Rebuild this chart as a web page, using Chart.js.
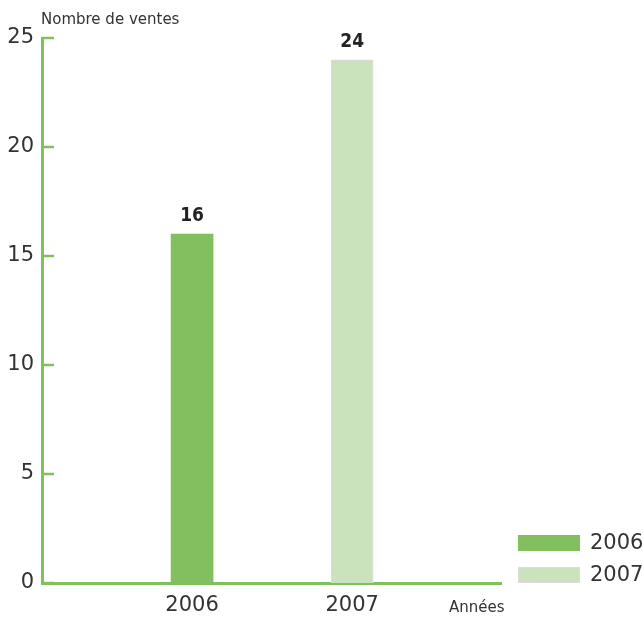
<!DOCTYPE html>
<html>
<head>
<meta charset="utf-8">
<script src="https://cdn.jsdelivr.net/npm/chart.js@4.4.0/dist/chart.umd.min.js"></script>
<style>
  html, body { margin: 0; padding: 0; background: #fff; }
  #wrap { width: 643px; height: 617px; position: relative; }
</style>
</head>
<body>
<div id="wrap"><canvas id="salesChart" width="643" height="617"></canvas></div>
<script>
var years = ['2006', '2007'];
var sales = [16, 24];
var yTicks = [0, 5, 10, 15, 20, 25];
var colors = ['#82bf5f', '#cbe3bc'];
var yTitle = 'Nombre de ventes';
var xTitle = 'Années';

var axisGreen = '#7fc25d';
var textColor = '#333333';

var datasets = years.map(function (yr, i) {
    return {
        label: yr,
        data: [{ x: Number(yr), y: sales[i] }],
        backgroundColor: colors[i],
        borderColor: i === 1 ? '#e2d8e2' : colors[i],
        borderWidth: i === 1 ? 1 : 0,
        borderSkipped: 'bottom',
        barThickness: 42,
        grouped: false
    };
});

// inward ticks, value labels, axis captions and the legend
var decorations = {
    id: 'decorations',
    afterDatasetsDraw: function (chart) {
        var ctx = chart.ctx;
        var ys = chart.scales.y;
        var xs = chart.scales.x;
        ctx.save();

        ctx.strokeStyle = axisGreen;
        ctx.lineWidth = 2.5;
        yTicks.forEach(function (v) {
            var py = ys.getPixelForValue(v);
            ctx.beginPath();
            ctx.moveTo(xs.left, py);
            ctx.lineTo(xs.left + 12, py);
            ctx.stroke();
        });

        ctx.fillStyle = '#222';
        ctx.font = 'bold 19px "DejaVu Sans Condensed", "DejaVu Sans", sans-serif';
        ctx.textAlign = 'center';
        ctx.textBaseline = 'alphabetic';
        chart.data.datasets.forEach(function (ds, i) {
            var bar = chart.getDatasetMeta(i).data[0];
            ctx.fillText(String(ds.data[0].y), bar.x, bar.y - 13);
        });

        ctx.fillStyle = textColor;
        ctx.font = '15px "DejaVu Sans", sans-serif';
        ctx.textAlign = 'left';
        ctx.fillText(yTitle, 41, 24);
        ctx.fillText(xTitle, 449, 612);

        ctx.font = '21px "DejaVu Sans", sans-serif';
        ctx.textBaseline = 'middle';
        chart.data.datasets.forEach(function (ds, i) {
            var top = 535 + i * 32;
            ctx.fillStyle = ds.backgroundColor;
            ctx.fillRect(518, top, 62, 16);
            if (ds.borderWidth) {
                ctx.strokeStyle = ds.borderColor;
                ctx.lineWidth = 1;
                ctx.strokeRect(518.5, top + 0.5, 61, 15);
            }
            ctx.fillStyle = textColor;
            ctx.fillText(ds.label, 590, top + 9);
        });
        ctx.restore();
    }
};

new Chart(document.getElementById('salesChart'), {
    type: 'bar',
    data: { datasets: datasets },
    options: {
        responsive: false,
        animation: false,
        events: [],
        layout: { padding: { top: 38, right: 142, left: 0, bottom: 0 } },
        plugins: {
            legend: { display: false },
            tooltip: { enabled: false }
        },
        scales: {
            x: {
                type: 'linear',
                offset: false,
                min: 2005.0625,
                max: 2007.93,
                afterBuildTicks: function (scale) {
                    scale.ticks = years.map(function (y) { return { value: Number(y) }; });
                },
                afterFit: function (scale) { scale.height = 34; },
                grid: { display: false, drawTicks: false, offset: false },
                border: { display: true, color: axisGreen, width: 3 },
                ticks: {
                    color: textColor,
                    font: { family: 'DejaVu Sans', size: 21 },
                    padding: 10,
                    callback: function (v) { return String(v); }
                }
            },
            y: {
                min: 0,
                max: 25,
                afterBuildTicks: function (scale) {
                    scale.ticks = yTicks.map(function (v) { return { value: v }; });
                },
                afterFit: function (scale) { scale.width = 42; },
                grid: { display: false, drawTicks: false },
                border: { display: true, color: axisGreen, width: 3 },
                ticks: {
                    color: textColor,
                    font: { family: 'DejaVu Sans', size: 21 },
                    padding: 8
                }
            }
        }
    },
    plugins: [decorations]
});
</script>
</body>
</html>
